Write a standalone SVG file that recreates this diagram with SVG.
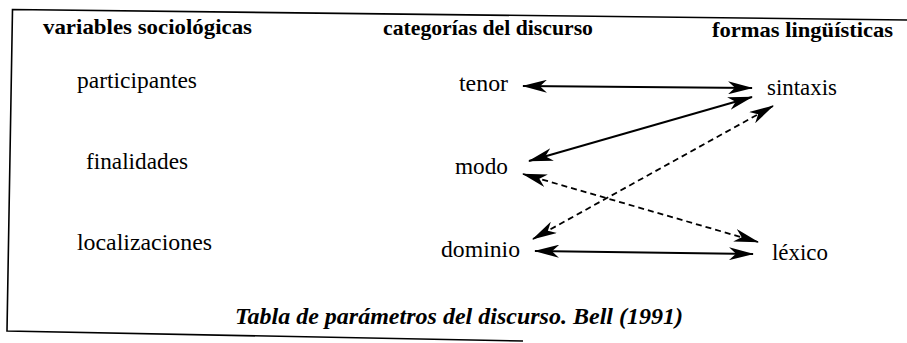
<svg xmlns="http://www.w3.org/2000/svg" width="907" height="343" viewBox="0 0 907 343">
<style>
text{font-family:'Liberation Serif','Times New Roman','DejaVu Serif',serif;fill:#000}
.hd{font-weight:bold;font-size:22px}
.tx{font-size:23.5px}
.cap{font-weight:bold;font-style:italic;font-size:23.5px}
.solid{stroke:#000;stroke-width:2;fill:none;marker-start:url(#ah);marker-end:url(#ah)}
.dash{stroke:#000;stroke-width:1.8;fill:none;stroke-dasharray:6 4;marker-start:url(#ah);marker-end:url(#ah)}
.frame{stroke:#000;stroke-width:1.6;fill:none}
</style>
<defs>
<marker id="ah" viewBox="0 0 25 13" refX="24" refY="6.5" markerWidth="25" markerHeight="13" markerUnits="userSpaceOnUse" orient="auto-start-reverse">
<path d="M0,0 L25,6.5 L0,13 L7,6.5 Z" fill="#000"/>
</marker>
</defs>
<rect width="907" height="343" fill="#fff"/>
<polyline class="frame" points="907,20 12.5,9.5 7,331 523,341"/>
<g id="headers">
<text class="hd" x="43" y="34" textLength="209" lengthAdjust="spacingAndGlyphs">variables sociológicas</text>
<text class="hd" x="383" y="35" textLength="210" lengthAdjust="spacingAndGlyphs">categorías del discurso</text>
<text class="hd" x="712" y="37" textLength="181" lengthAdjust="spacingAndGlyphs">formas lingüísticas</text>
</g>
<g id="participantes"><text class="tx" x="77" y="88" textLength="120" lengthAdjust="spacingAndGlyphs">participantes</text></g>
<g id="finalidades"><text class="tx" x="86" y="169" textLength="102" lengthAdjust="spacingAndGlyphs">finalidades</text></g>
<g id="localizaciones"><text class="tx" x="77" y="250" textLength="135" lengthAdjust="spacingAndGlyphs">localizaciones</text></g>
<g id="tenor"><text class="tx" x="459" y="91" textLength="49" lengthAdjust="spacingAndGlyphs">tenor</text></g>
<g id="modo"><text class="tx" x="455" y="174" textLength="53" lengthAdjust="spacingAndGlyphs">modo</text></g>
<g id="dominio"><text class="tx" x="441" y="257" textLength="79" lengthAdjust="spacingAndGlyphs">dominio</text></g>
<g id="sintaxis"><text class="tx" x="767" y="95" textLength="70" lengthAdjust="spacingAndGlyphs">sintaxis</text></g>
<g id="lexico"><text class="tx" x="772" y="260" textLength="56" lengthAdjust="spacingAndGlyphs">léxico</text></g>
<g id="connectors">
<line class="solid" x1="523" y1="86" x2="752" y2="88"/>
<line class="solid" x1="529" y1="161" x2="752" y2="97"/>
<line class="dash" x1="533" y1="239" x2="773" y2="106"/>
<line class="dash" x1="523" y1="174" x2="758" y2="242"/>
<line class="solid" x1="535" y1="251" x2="753" y2="254"/>
</g>
<g id="caption"><text class="cap" x="235" y="324" textLength="448" lengthAdjust="spacingAndGlyphs">Tabla de parámetros del discurso. Bell (1991)</text></g>
</svg>
